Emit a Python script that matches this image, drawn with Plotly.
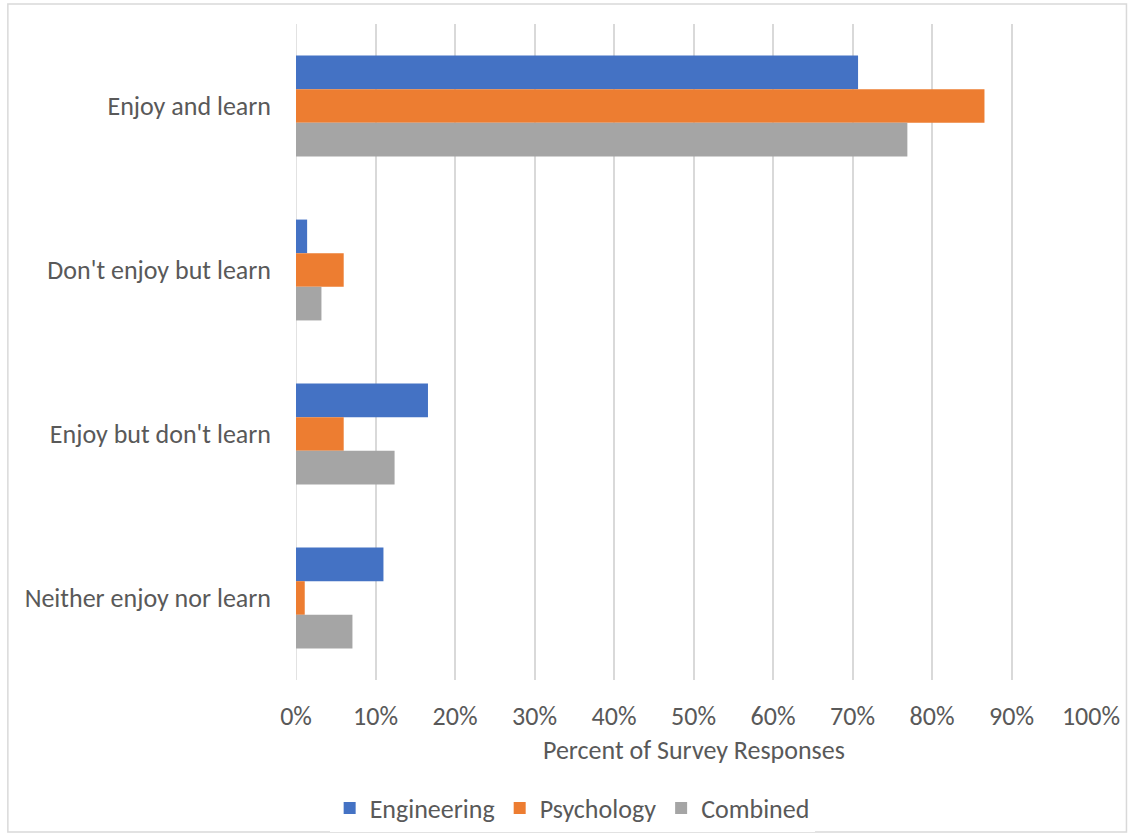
import plotly.graph_objects as go

categories = ["Enjoy and learn", "Don't enjoy but learn", "Enjoy but don't learn", "Neither enjoy nor learn"]
engineering = [0.707, 0.014, 0.166, 0.110]
psychology = [0.866, 0.060, 0.060, 0.011]
combined = [0.769, 0.032, 0.124, 0.071]
x_ticks = [i / 10 for i in range(11)]
x_tick_labels = [f"{i*10}%" for i in range(11)]

series = [
    ("Engineering", engineering, "#4472C4"),
    ("Psychology", psychology, "#ED7D31"),
    ("Combined", combined, "#A5A5A5"),
]

FONT = "Carlito, Lato, sans-serif"
GREY = "#595959"
FS = 26

fig = go.Figure()
for name, vals, color in series:
    fig.add_trace(go.Bar(
        y=categories, x=vals, name=name, orientation="h",
        marker=dict(color=color, line=dict(width=0)),
    ))

L, R, T, B = 295.5, 40.5, 24, 157
W, H = 1132, 837
pw, ph = W - L - R, H - T - B

fig.update_layout(
    width=W, height=H,
    margin=dict(l=L, r=R, t=T, b=B, autoexpand=False),
    paper_bgcolor="white", plot_bgcolor="white",
    barmode="group", bargap=0.385, bargroupgap=0,
    font=dict(family=FONT, size=FS, color=GREY),
    showlegend=True,
    legend=dict(orientation="h", x=(572 - L) / pw, xanchor="center",
                y=-(808 - (T + ph)) / ph, yanchor="middle",
                font=dict(size=FS, color=GREY), itemsizing="constant",
                traceorder="normal", itemwidth=30),
    xaxis=dict(range=[0, 1], tickvals=x_ticks, ticktext=x_tick_labels,
               showgrid=True, gridcolor="#D9D9D9", gridwidth=1.5,
               zeroline=False, showline=False, ticks="",
               tickfont=dict(size=FS, color=GREY), ticklabelstandoff=18,
               fixedrange=True),
    yaxis=dict(autorange="reversed", showgrid=False, zeroline=False,
               showline=False, ticks="", tickfont=dict(size=FS, color=GREY),
               ticklabelstandoff=24),
    annotations=[dict(text="Percent of Survey Responses", xref="paper", yref="paper",
                      x=0.5, y=-(750 - (T + ph)) / ph, xanchor="center", yanchor="middle",
                      showarrow=False, font=dict(size=FS, color=GREY))],
    shapes=[
        dict(type="line", xref="x", yref="paper", x0=0, x1=0, y0=0, y1=1,
             line=dict(color="#D9D9D9", width=1.5), layer="below"),
        dict(type="rect", xref="paper", yref="paper",
             x0=(7 - L) / pw, x1=(1127 - L) / pw,
             y0=(T + ph - 832) / ph, y1=(T + ph - 4) / ph,
             line=dict(color="#D9D9D9", width=1.5)),
    ],
)

fig.write_html("out.html")
